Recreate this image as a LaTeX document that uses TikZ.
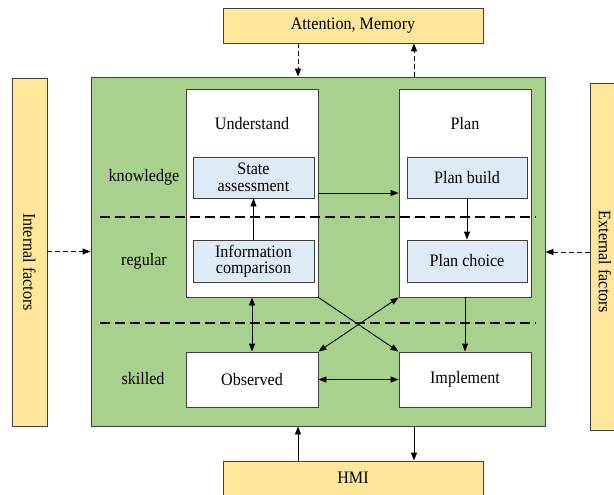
\documentclass[tikz,border=0pt]{standalone}
\usepackage{fontspec}
\setmainfont{Liberation Serif}[FakeStretch=0.92]
\usetikzlibrary{arrows.meta,shadows}
\definecolor{frameline}{HTML}{404040}
\definecolor{panelgreen}{HTML}{A9D18E}
\definecolor{factoryellow}{HTML}{FFE699}
\definecolor{stepblue}{HTML}{DEEBF7}
\newcommand{\labelfont}{\fontsize{17.5}{19.5}\selectfont}
\tikzset{
  box/.style={draw=frameline, line width=0.9pt, inner sep=2pt, align=center,
    font=\labelfont,
    drop shadow={opacity=0.18, shadow xshift=1.2pt, shadow yshift=-1.2pt}},
  yellowbox/.style={box, fill=factoryellow},
  whitebox/.style={box, fill=white},
  bluebox/.style={box, fill=stepblue},
  lbl/.style={font=\labelfont, inner sep=0pt},
  arr/.style={-{Triangle[length=8pt,width=6pt]}, line width=0.9pt, draw=black},
  darr/.style={{Triangle[length=8pt,width=6pt]}-{Triangle[length=8pt,width=6pt]}, line width=0.9pt, draw=black},
  dasharr/.style={arr, dash pattern=on 5pt off 3pt},
  levelline/.style={line width=1.1pt, dash pattern=on 10pt off 5pt},
}
\begin{document}
\begin{tikzpicture}[x=1pt, y=-1pt]
\useasboundingbox (0,0) rectangle (614,495);
\clip (0,0) rectangle (614,495);

% outer factor boxes
\node[yellowbox, minimum width=260pt, minimum height=35pt] (att) at (353,25.5) {Attention, Memory};
\node[yellowbox, minimum width=260pt, minimum height=40pt] (hmi) at (353,481) {};
\node[lbl] at (353,478) {HMI};
\node[yellowbox, minimum width=35pt, minimum height=348pt] (intf) at (29.5,252) {};
\node[lbl, rotate=-90] at (29.5,262) {Internal factors};
\node[yellowbox, minimum width=40pt, minimum height=347pt] (extf) at (610,256.5) {};
\node[lbl, rotate=-90] at (605,262) {External factors};

% central panel
\node[box, fill=panelgreen, minimum width=454pt, minimum height=349pt] (green) at (318,251.5) {};

% column boxes
\node[whitebox, minimum width=132pt, minimum height=208pt] (und) at (252,193) {};
\node[whitebox, minimum width=132pt, minimum height=208pt] (plan) at (465,193) {};
\node[lbl] at (252,124) {Understand};
\node[lbl] at (465,124) {Plan};

\node[bluebox, minimum width=121pt, minimum height=41pt] (sa) at (253.5,177.5) {State\\[-3pt]assessment};
\node[bluebox, minimum width=120pt, minimum height=41pt] (pb) at (467,177.5) {Plan build};
\node[bluebox, minimum width=121pt, minimum height=42pt] (ic) at (253.5,261) {Information\\[-3pt]comparison};
\node[bluebox, minimum width=120pt, minimum height=42pt] (pc) at (467,261) {Plan choice};

\node[whitebox, minimum width=132pt, minimum height=55pt] (obs) at (252,379.5) {Observed};
\node[whitebox, minimum width=132pt, minimum height=55pt] (impl) at (465,379.5) {Implement};

% level labels
\node[lbl] at (144,177) {knowledge};
\node[lbl] at (144,261) {regular};
\node[lbl] at (143,379) {skilled};

% level separators
\coordinate (k0) at (100,217);
\coordinate (k1) at (536,217);
\coordinate (s0) at (100,323);
\coordinate (s1) at (536,323);
\draw[levelline] (k0) -- (k1);
\draw[levelline] (s0) -- (s1);

% connectors inside the panel
\draw[arr] (und.east) -- (plan.west);
\draw[arr] (ic.north) -- (sa.south);
\draw[arr] (pb.south) -- (pc.north);
\draw[darr] (und.south) -- (obs.north);
\draw[arr] (plan.south) -- (impl.north);
\draw[arr] (und.south east) -- (impl.north west);
\draw[darr] (obs.north east) -- (plan.south west);
\draw[darr] (obs.east) -- (impl.west);

% connectors to the outer boxes
\draw[dasharr] ([xshift=-55pt]att.south) -- ([xshift=-55pt]att.south |- green.north);
\draw[dasharr] ([xshift=61pt]att.south |- green.north) -- ([xshift=61pt]att.south);
\draw[dasharr] (intf.east |- green.west) -- (green.west);
\draw[dasharr] ([yshift=4.5pt]extf.west) -- ([yshift=4.5pt]extf.west -| green.east);
\draw[arr] ([xshift=-55pt]hmi.north) -- ([xshift=-55pt]hmi.north |- green.south);
\draw[arr] ([xshift=61pt]hmi.north |- green.south) -- ([xshift=61pt]hmi.north);
\end{tikzpicture}
\end{document}
